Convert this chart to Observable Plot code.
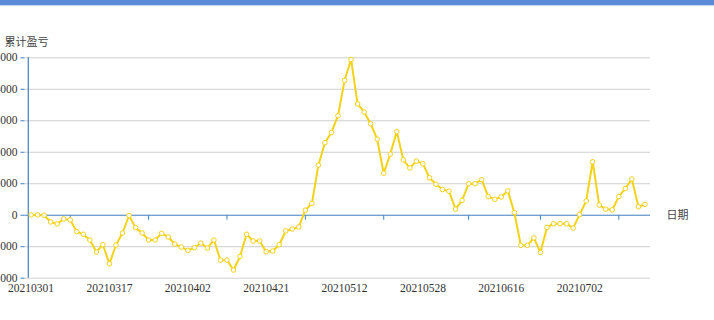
<!DOCTYPE html>
<html>
<head>
<meta charset="utf-8">
<script src="https://cdn.jsdelivr.net/npm/d3@7"></script>
<script src="https://cdn.jsdelivr.net/npm/@observablehq/plot@0.6"></script>
<style>
  html, body { margin: 0; padding: 0; background: #fff; }
  #wrap { position: relative; width: 714px; height: 320px; overflow: hidden; }
  #topbar { position: absolute; left: 0; top: 0; width: 714px; height: 5px; background: #5b8bd8; box-shadow: 0 1px 1px rgba(91,139,216,0.35); z-index: 2; }
  #chart svg { display: block; }
</style>
</head>
<body>
<div id="wrap"><div id="topbar"></div><div id="chart"></div></div>
<script>
const dates = [
  "20210301","20210302","20210303","20210304","20210305","20210308","20210309","20210310","20210311","20210312",
  "20210315","20210316","20210317","20210318","20210319","20210322","20210323","20210324","20210325","20210326",
  "20210329","20210330","20210331","20210401","20210402","20210406","20210407","20210408","20210409","20210412",
  "20210413","20210414","20210415","20210416","20210419","20210420","20210421","20210422","20210423","20210426",
  "20210427","20210428","20210429","20210430","20210506","20210507","20210510","20210511","20210512","20210513",
  "20210514","20210517","20210518","20210519","20210520","20210521","20210524","20210525","20210526","20210527",
  "20210528","20210531","20210601","20210602","20210603","20210604","20210607","20210608","20210609","20210610",
  "20210611","20210615","20210616","20210617","20210618","20210621","20210622","20210623","20210624","20210625",
  "20210628","20210629","20210630","20210701","20210702","20210705","20210706","20210707","20210708","20210709",
  "20210712","20210713","20210714","20210715","20210716"
];
const values = [
  10, 10, 0, -213, -277, -117, -149, -521, -606, -787,
  -1170, -936, -1543, -947, -564, -10, -394, -564, -787, -787,
  -574, -691, -915, -1011, -1117, -1032, -883, -1043, -787, -1426,
  -1426, -1740, -1309, -606, -819, -819, -1160, -1138, -936, -500,
  -436, -372, 160, 372, 1590, 2305, 2630, 3160, 4280, 4947,
  3535, 3280, 2905, 2415, 1335, 1940, 2655, 1760, 1500, 1720,
  1635, 1190, 985, 815, 763, 194, 473, 1000, 1000, 1129,
  591, 505, 581, 774, 86, -957, -957, -720, -1183, -387,
  -269, -269, -269, -409, 20, 452, 1699, 323, 194, 172,
  591, 849, 1151, 269, 344
];
const yTicks = [-2000, -1000, 0, 1000, 2000, 3000, 4000, 5000];
const xLabelDates = ["20210301","20210317","20210402","20210421","20210512","20210528","20210616","20210702"];
const xTickDates = ["20210309","20210325","20210413","20210429","20210520","20210608","20210624","20210712"];
const yTitle = "累计盈亏";
const xTitle = "日期";

const data = dates.map((d, i) => ({date: d, value: values[i]}));

const blue = "#3d7fc1";
const yellow = "#f3d21a";
const tickSymbol = { draw(ctx) { ctx.moveTo(0, 0); ctx.lineTo(0, 4.5); } };

const chart = Plot.plot({
  width: 714,
  height: 320,
  marginLeft: 24.5,
  marginRight: 64,
  marginTop: 57.3,
  marginBottom: 42.3,
  style: { fontFamily: "'Liberation Serif', 'Noto Sans CJK SC', serif", fontSize: "11.5px", background: "transparent", color: "#333" },
  x: { type: "point", domain: dates, range: [27.3, 647.7], axis: null },
  y: { domain: [-2000, 5000], axis: null },
  marks: [
    Plot.gridY(yTicks.filter(d => d !== 0), { stroke: "#cfcfcf", strokeOpacity: 1 }),
    Plot.ruleY([0], { stroke: blue, strokeWidth: 1 }),
    Plot.ruleX([dates[0]], { y1: -2000, y2: 5000, dx: -2.8, stroke: blue, strokeWidth: 1.2 }),
    Plot.axisY({ ticks: yTicks, tickSize: 4, stroke: blue, tickFormat: () => "", label: null }),
    Plot.text(yTicks, { y: d => d, frameAnchor: "left", dx: -7.5, textAnchor: "end", text: d => String(d), fill: "#333" }),
    Plot.dot(xTickDates, { x: d => d, y: () => 0, symbol: tickSymbol, stroke: blue, fill: "none", strokeWidth: 1 }),
    Plot.text(xLabelDates, { x: d => d, frameAnchor: "bottom", dy: 13.3, text: d => d, fill: "#333" }),
    Plot.line(data, { x: "date", y: "value", stroke: yellow, strokeWidth: 2 }),
    Plot.dot(data, { x: "date", y: "value", r: 2.3, fill: "white", stroke: yellow, strokeWidth: 1 }),
    Plot.text([xTitle], { y: () => 0, frameAnchor: "right", dx: 16, textAnchor: "start", text: d => d, fill: "#444", fontFamily: "'Noto Sans CJK SC', sans-serif", fontSize: 11 }),
    Plot.text([yTitle], { frameAnchor: "top-left", dx: -20.5, dy: -19.6, textAnchor: "start", text: d => d, fill: "#444", fontFamily: "'Noto Sans CJK SC', sans-serif", fontSize: 11 })
  ]
});
document.getElementById("chart").appendChild(chart);
</script>
</body>
</html>
